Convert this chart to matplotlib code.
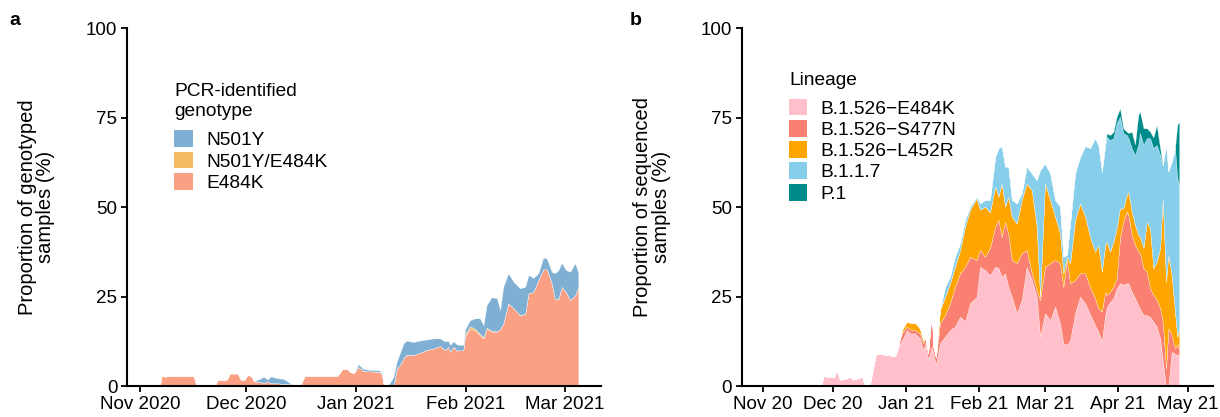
import matplotlib
matplotlib.use('Agg')
import matplotlib.pyplot as plt
import matplotlib.dates as mdates
from matplotlib.patches import Patch
import numpy as np

plt.rcParams['font.family'] = ['Liberation Sans', 'DejaVu Sans']

# ---------------- Data: panel a (PCR-identified genotype, % of genotyped samples) ----------------
# days since 2020-11-01
a_days = [5.6, 6.1, 7, 8, 10, 12, 14, 15.2, 15.9,
          21.2, 21.8, 24.5, 25.3, 27.6, 28.4, 29.5, 30.3, 31.3, 32.2, 34, 34.9, 36, 37, 38.5, 40.5, 41.8, 43, 43.5,
          45.2, 46.5, 55.8, 57, 58.3, 59.4, 60.4, 61.7, 63, 65, 67.5, 68.3, 68.9,
          70, 71.6, 72.5, 73.4, 74.4, 75.3, 77.2, 79.1, 81, 82.9, 84.7, 86.2, 87, 87.6, 88.5, 89.5, 90.4, 91.3,
          91.8, 93.2, 94.6, 96, 97, 97.9, 99.3, 100.8, 101.7, 102.6, 104, 105.5, 107.3, 108.8, 109.7, 111.1,
          112.5, 113.9, 114.9, 116.3, 117.2, 118.2, 119.1, 120.3, 121.5, 122.9, 123.8]
a_e484k = [0, 3.0, 2.6, 2.8, 2.7, 2.9, 2.8, 2.7, 0,
           0, 1.7, 1.8, 3.5, 3.5, 1.8, 1.8, 3.0, 2.9, 1.3, 1.1, 0.9, 1.2, 0.8, 0.8, 0.6, 0.6, 0.4, 0,
           0, 2.9, 2.9, 4.6, 4.9, 3.9, 3.6, 5.3, 4.3, 4.1, 4.0, 3.3, 0,
           0, 0, 4.9, 5.9, 7.8, 8.7, 8.7, 9.3, 10.1, 10.5, 11.2, 10.0, 11.0, 9.6, 11.0, 9.9, 10.0, 10.0,
           13.8, 16.1, 15.5, 14.2, 13.3, 16.1, 15.2, 15.2, 15.8, 17.5, 23.1, 21.7, 19.8, 20.2, 25.9, 26.3,
           29.6, 32.6, 32.6, 28.7, 24.2, 24.4, 27.7, 26.3, 24.0, 25.4, 27.7]
a_n501y_e484k = [0] * 9 + [0] * 19 + [0] * 13 + [0] * 18 + \
                [0.7, 0.6, 0.5, 0.4, 0.3, 0.2, 0.2, 0.1, 0.1] + [0] * 18
a_n501y = [0] * 9 + \
          [0, 0, 0, 0, 0, 0, 0, 0, 0, 0, 1.0, 1.7, 0.6, 1.9, 1.4, 1.4, 0.6, 0, 0] + \
          [0, 0, 0, 0, 0, 0, 0, 0.8, 0.5, 0.4, 0.4, 0.3, 0] + \
          [0, 2.6, 1.9, 3.3, 4.1, 4.0, 3.6, 3.4, 2.9, 2.8, 2.1, 2.4, 1.7, 1.9, 1.5, 1.7, 1.5, 1.5] + \
          [1.3, 1.7, 2.9, 4.3, 3.4, 6.3, 9.4, 9.2, 5.3, 10.2, 8.4, 7.4, 7.5, 7.5, 5.1, 3.9, 1.9, 3.3, 3.0,
           3.2, 7.3, 8.0, 6.7, 6.1, 7.9, 8.9, 3.8]
a_series_names = ['E484K', 'N501Y/E484K', 'N501Y']
a_colors = ['#FCA084', '#F5B961', '#7FAFD2']
a_tick_dates = ['2020-11-01', '2020-12-01', '2021-01-01', '2021-02-01', '2021-03-01']
a_tick_labels = ['Nov 2020', 'Dec 2020', 'Jan 2021', 'Feb 2021', 'Mar 2021']

# ---------------- Data: panel b (lineage, % of sequenced samples) ----------------
b_days = [25, 25.8, 28, 30.5, 31.5, 32.8, 35, 37, 38.5, 42.5, 43.3, 45.5, 48.2, 52, 56.3, 57.7,
          58.4, 59.5, 61.3, 62.7, 64.8, 66.9, 68.3, 69.3, 70.4, 71.9, 72.6, 73.7,
          75.4, 77.6, 79.7, 81.8, 84, 86.1, 88.2, 91, 92.5, 94.6, 96.7, 98.9, 100.3, 101.7, 103.1, 104.5,
          106, 108.1, 110.2, 112.3, 114.5, 116.6, 118, 120.1, 122.3, 124.4, 126.5, 127.9, 129.4, 130.8,
          132.9, 135, 137.2, 139.3, 141.4, 142.8, 144.3,
          145.7, 146.4, 147.8, 149.2, 150.6, 152, 153.4, 154.9, 155.6, 157, 158.4, 159.8, 160.5, 162,
          163.4, 164.8, 166.2, 167.6, 169.1, 170.2, 171.6, 172.6, 174, 175.4, 176.4, 177.2]
b_e484k = [0, 2.8, 2.5, 2.6, 4.6, 1.8, 1.9, 2.6, 1.8, 2.6, 0, 0, 9.1, 8.8, 8.3, 11.0,
           11.9, 13.0, 15.6, 14.7, 14.7, 13.3, 10.0, 12.0, 7.3, 11.0, 9.0, 5.9,
           11.9, 13.8, 15.6, 16.6, 19.4, 18.0, 23.1, 24.9, 33.3, 32.4, 31.0, 33.3, 33.0, 30.5, 31.5, 27.7,
           24.9, 20.3, 24.0, 33.3, 29.6, 24.9, 13.8, 20.3, 18.4, 22.2, 17.5, 11.9, 11.5, 12.8,
           20.3, 24.9, 23.1, 20.0, 17.0, 15.2, 12.4,
           19.8, 22.0, 23.5, 24.5, 27.3, 28.7, 28.3, 28.7, 28.7, 26.3, 24.5, 22.6, 21.6, 19.8,
           19.8, 19.3, 18.0, 16.6, 13.3, 6.8, 0, 0, 9.6, 9.0, 8.7, 8.7]
b_s477n = [0] * 16 + \
          [1.4, 2.0, 1.0, 1.1, 0.9, 1.4, 1.9, 1.4, 1.8, 10.0, 2.0, 2.1] + \
          [5.6, 6.0, 7.5, 11.1, 12.1, 15.3, 13.0, 10.3, 4.7, 3.7, 7.5, 11.2, 13.4, 11.2, 14.4, 14.9,
           10.3, 14.0, 13.1, 4.7, 1.9, 1.9, 10.2, 13.0, 15.9, 13.0, 16.8, 15.8, 23.7, 15.9,
           9.3, 6.6, 8.4, 7.5, 7.5, 6.5, 8.4] + \
          [6.5, 3.4, 2.8, 3.2, 2.8, 12.6, 17.6, 20.0, 19.0, 15.9, 14.9, 15.0, 15.5, 13.1,
           12.1, 8.0, 7.4, 7.5, 8.4, 11.2, 4.9, 16.1, 4.6, 1.5, 3.0, 1.5]
b_l452r = [0] * 16 + \
          [0, 1.0, 1.4, 1.9, 2.1, 1.4, 0.9, 0, 0, 0, 0, 0] + \
          [3.7, 5.1, 5.6, 5.6, 6.5, 11.2, 13.1, 17.2, 11.2, 14.0, 10.0, 11.2, 6.5, 14.9, 4.2, 10.3,
           12.1, 11.1, 14.9, 18.6, 23.2, 17.7, 0.9, 23.3, 17.7, 12.1, 8.4, 3.8, 0.9, 5.6,
           16.8, 19.5, 15.8, 14.0, 13.0, 17.7, 11.1] + \
          [13.1, 14.9, 11.2, 12.6, 13.9, 8.3, 3.7, 4.7, 6.5, 6.5, 5.6, 4.6, 4.6, 5.6,
           14.0, 16.7, 7.5, 10.6, 16.8, 34.4, 24.2, 20.5, 16.8, 10.3, 2.0, 5.9]
b_b117 = [0] * 16 + [0] * 12 + \
         [0, 2.8, 1.8, 2.8, 1.9, 1.9, 0.9, 0.5, 1.8, 1.9, 3.5, 8.3, 13.5, 10.4, 11.2, 8.4,
          4.7, 5.6, 1.8, 4.7, 4.7, 13.0, 35.4, 5.6, 7.4, 4.7, 7.4, 4.6, 0.5, 11.1,
          13.0, 13.0, 19.7, 25.0, 31.7, 27.9, 28.0] + \
         [27.9, 29.3, 31.2, 28.9, 29.4, 25.6, 21.0, 16.7, 15.0, 17.7, 19.5, 25.1, 29.0, 28.8,
          23.3, 25.2, 33.5, 32.6, 26.0, 9.3, 38.2, 23.3, 31.7, 45.6, 44.3, 40.0]
b_p1 = [0] * 16 + [0] * 12 + [0] * 37 + \
       [0, 1.0, 1.4, 1.8, 1.8, 2.4, 1.4, 0.9, 1.5, 4.6, 3.0, 8.4, 6.0, 4.7,
        2.8, 1.9, 3.0, 5.6, 1.9, 0, 0, 0, 0, 0, 15.0, 17.7]
b_series_names = ['B.1.526\u2212E484K', 'B.1.526\u2212S477N', 'B.1.526\u2212L452R', 'B.1.1.7', 'P.1']
b_colors = ['#FFC0CB', '#FA8072', '#FFA500', '#87CEEB', '#008B8B']
b_tick_dates = ['2020-11-01', '2020-12-01', '2021-01-01', '2021-02-01', '2021-03-01',
                '2021-04-01', '2021-05-01']
b_tick_labels = ['Nov 20', 'Dec 20', 'Jan 21', 'Feb 21', 'Mar 21', 'Apr 21', 'May 21']

origin = mdates.date2num(np.datetime64('2020-11-01'))
FS = 13.5
LFS = 13.8
YFS = 14.5

fig = plt.figure(figsize=(12.2, 4.17), dpi=100)
ax_a = fig.add_axes([0.1041, 0.0743, 0.3885, 0.8585])
ax_b = fig.add_axes([0.6080, 0.0743, 0.3863, 0.8585])


def style(ax, xlim_days, tick_dates, tick_labels, ylabel):
    ax.set_xlim(origin + xlim_days[0], origin + xlim_days[1])
    ax.set_ylim(0, 100)
    ax.set_yticks([0, 25, 50, 75, 100])
    ax.set_xticks([mdates.date2num(np.datetime64(d)) for d in tick_dates])
    ax.set_xticklabels(tick_labels)
    for s in ['top', 'right']:
        ax.spines[s].set_visible(False)
    for s in ['left', 'bottom']:
        ax.spines[s].set_linewidth(1.5)
    ax.tick_params(axis='both', length=4, width=1.3, labelsize=FS, color='black', pad=3)
    ax.set_ylabel(ylabel, fontsize=YFS, linespacing=0.98)
    ax.yaxis.set_label_coords(-0.151, 0.5)


def make_legend(ax, handles, title, anchor, extra_gap_pt):
    leg = ax.legend(handles=handles, title=title, loc='upper left',
                    bbox_to_anchor=anchor, frameon=False, fontsize=LFS, title_fontsize=LFS,
                    handlelength=0.97, handleheight=0.97, handletextpad=0.68, labelspacing=0.12,
                    borderpad=0, borderaxespad=0, alignment='left')
    # extra space between legend title and its entries
    leg._legend_box.sep = leg._legend_box.sep + extra_gap_pt
    return leg


# Panel a
xa = origin + np.array(a_days)
ax_a.stackplot(xa, a_e484k, a_n501y_e484k, a_n501y, colors=a_colors,
               edgecolor='white', linewidth=0.2)
style(ax_a, (-3.7, 130.2), a_tick_dates, a_tick_labels, 'Proportion of genotyped\nsamples (%)')
handles_a = [Patch(facecolor=c, edgecolor='none', label=n) for n, c in zip(a_series_names, a_colors)][::-1]
make_legend(ax_a, handles_a, 'PCR-identified\ngenotype', (0.1, 0.846), 6.0)

# Panel b
xb = origin + np.array(b_days)
ax_b.stackplot(xb, b_e484k, b_s477n, b_l452r, b_b117, b_p1, colors=b_colors,
               edgecolor='white', linewidth=0.2)
style(ax_b, (-8.9, 191.6), b_tick_dates, b_tick_labels, 'Proportion of sequenced\nsamples (%)')
handles_b = [Patch(facecolor=c, edgecolor='none', label=n) for n, c in zip(b_series_names, b_colors)]
make_legend(ax_b, handles_b, 'Lineage', (0.1, 0.876), 5.0)

fig.text(0.008, 0.94, 'a', fontsize=14, fontweight='bold', va='baseline')
fig.text(0.516, 0.94, 'b', fontsize=14, fontweight='bold', va='baseline')

fig.savefig('out.png', dpi=100)
